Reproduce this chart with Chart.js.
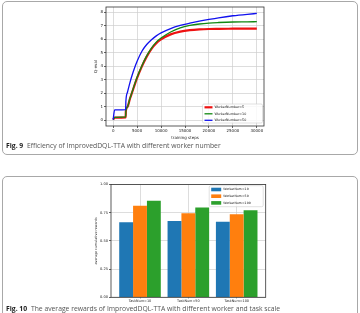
<!DOCTYPE html>
<html>
<head>
<meta charset="utf-8">
<script src="https://cdn.jsdelivr.net/npm/chart.js@4.4.0/dist/chart.umd.min.js"></script>
<style>
  html, body { margin: 0; padding: 0; background: #fff; }
  body { width: 360px; height: 313px; position: relative; overflow: hidden; }
  .box { position: absolute; box-sizing: border-box; border: 1px solid #a8a8a8; border-radius: 5px; }
  .cap { position: absolute; left: 6px; font-family: "Open Sans", sans-serif; font-size: 6.8px; line-height: 10px; color: #555; white-space: nowrap; }
  .cap b { color: #222; font-weight: 700; margin-right: 2px; }
  canvas { position: absolute; left: 0; }
</style>
</head>
<body>
<div class="box" style="left:2px;top:1px;width:356px;height:154px"></div>
<div class="box" style="left:2px;top:176px;width:356px;height:200px"></div>
<canvas id="qChart" width="360" height="143" style="top:0"></canvas>
<canvas id="rewardChart" width="360" height="128" style="top:178px"></canvas>
<div class="cap" style="top:141px"><b>Fig. 9</b> Efficiency of ImprovedDQL-TTA with different worker number</div>
<div class="cap" style="top:304px"><b>Fig. 10</b> The average rewards of ImprovedDQL-TTA with different worker and task scale</div>
<script>
// Fig. 9 data
const steps     = [0, 300, 2600, 2650, 3000, 3500, 4000, 4500, 5000, 6000, 7000, 8000, 9000, 10000, 12000, 14000, 16000, 18000, 20000, 22000, 25000, 28000, 30000];
const qWorker5  = [0.05, 0.2, 0.22, 0.7, 1.0, 1.6, 2.12, 2.65, 3.15, 4.0, 4.72, 5.3, 5.72, 6.0, 6.37, 6.57, 6.68, 6.74, 6.77, 6.78, 6.79, 6.8, 6.8];
const qWorker10 = [0.05, 0.22, 0.25, 0.7, 1.0, 1.62, 2.15, 2.7, 3.2, 4.05, 4.78, 5.36, 5.8, 6.1, 6.55, 6.85, 7.03, 7.14, 7.21, 7.25, 7.29, 7.3, 7.31];
const qWorker50 = [0.05, 0.78, 0.8, 1.4, 2.1, 2.8, 3.4, 3.92, 4.38, 5.12, 5.62, 5.98, 6.26, 6.48, 6.8, 7.03, 7.2, 7.35, 7.48, 7.6, 7.75, 7.86, 7.92];
const lineLabels = ["WorkerNumber=5", "WorkerNumber=10", "WorkerNumber=50"];
const stepTicks = [0, 5000, 10000, 15000, 20000, 25000, 30000];
const qTicks = [0, 1, 2, 3, 4, 5, 6, 7, 8];

// Fig. 10 data
const taskLabels = ["TaskNum=10", "TaskNum=50", "TaskNum=100"];
const workerLabels = ["WorkerNum=10", "WorkerNum=50", "WorkerNum=100"];
const reward10  = [0.665, 0.676, 0.670];
const reward50  = [0.812, 0.745, 0.736];
const reward100 = [0.856, 0.795, 0.771];
const rewardTicks = [0, 0.25, 0.5, 0.75, 1.0];

const gridColor = "#cfcfcf";
const inkColor = "#222";
const mplFont = "DejaVu Sans";

// frame round the plot area + legend inside it
const frameAndLegend = {
  id: "frameAndLegend",
  afterDraw(chart, args, opts) {
    const ctx = chart.ctx;
    const a = chart.chartArea;
    ctx.save();
    ctx.strokeStyle = "#333";
    ctx.lineWidth = 0.8;
    ctx.strokeRect(a.left, a.top, a.right - a.left, a.bottom - a.top);

    const w = opts.width, h = opts.height;
    const x = a.right - opts.right - w;
    const y = opts.bottom != null ? a.bottom - opts.bottom - h : a.top + opts.top;
    ctx.fillStyle = "rgba(255,255,255,0.85)";
    ctx.strokeStyle = "#cccccc";
    ctx.lineWidth = 0.6;
    ctx.beginPath();
    if (ctx.roundRect) ctx.roundRect(x, y, w, h, 1.5); else ctx.rect(x, y, w, h);
    ctx.fill();
    ctx.stroke();

    ctx.font = opts.fontSize + "px '" + mplFont + "'";
    ctx.textBaseline = "middle";
    chart.data.datasets.forEach((ds, i) => {
      const ry = y + opts.first + i * opts.row;
      if (opts.kind === "line") {
        ctx.strokeStyle = ds.borderColor;
        ctx.lineWidth = ds.borderWidth;
        ctx.beginPath();
        ctx.moveTo(x + 2, ry);
        ctx.lineTo(x + 10, ry);
        ctx.stroke();
      } else {
        ctx.fillStyle = ds.backgroundColor;
        ctx.fillRect(x + 2, ry - 1.8, 10, 3.6);
      }
      ctx.fillStyle = "#111";
      ctx.fillText(ds.label, x + opts.textX, ry);
    });
    ctx.restore();
  }
};

const toPoints = (xs, ys) => ys.map((v, i) => ({ x: xs[i], y: v }));

new Chart(document.getElementById("qChart"), {
  type: "line",
  data: {
    datasets: [
      { label: lineLabels[0], data: toPoints(steps, qWorker5), borderColor: "#ee1111", borderWidth: 2.2, order: 3 },
      { label: lineLabels[1], data: toPoints(steps, qWorker10), borderColor: "#118811", borderWidth: 1.3, order: 2 },
      { label: lineLabels[2], data: toPoints(steps, qWorker50), borderColor: "#1111ee", borderWidth: 1.3, order: 1 }
    ]
  },
  options: {
    responsive: false,
    animation: false,
    devicePixelRatio: 1,
    layout: { padding: { left: 93.5, right: 96, top: 7, bottom: 3 } },
    elements: { point: { radius: 0 }, line: { cubicInterpolationMode: "monotone" } },
    plugins: {
      legend: { display: false },
      tooltip: { enabled: false },
      frameAndLegend: { kind: "line", width: 60, height: 19, right: 1.5, bottom: 3, first: 3.3, row: 6.5, textX: 12, fontSize: 3.3 }
    },
    scales: {
      x: {
        type: "linear", min: -1500, max: 31500,
        afterBuildTicks: s => { s.ticks = stepTicks.map(v => ({ value: v })); },
        afterFit: s => { s.height = 14; },
        grid: { color: gridColor, lineWidth: 0.7, tickLength: 2, tickColor: inkColor },
        border: { display: false },
        ticks: { font: { family: mplFont, size: 4 }, color: inkColor, padding: 1, maxRotation: 0, callback: v => String(v) },
        title: { display: true, text: "training steps", font: { family: mplFont, size: 4 }, color: inkColor, padding: 0 }
      },
      y: {
        min: -0.42, max: 8.4,
        afterBuildTicks: s => { s.ticks = qTicks.map(v => ({ value: v })); },
        afterFit: s => { s.width = 12.5; },
        grid: { color: gridColor, lineWidth: 0.7, tickLength: 2, tickColor: inkColor },
        border: { display: false },
        ticks: { font: { family: mplFont, size: 4 }, color: inkColor, padding: 1, callback: v => String(v) },
        title: { display: true, text: "Q-eval", font: { family: mplFont, size: 4 }, color: inkColor, padding: 0 }
      }
    }
  },
  plugins: [frameAndLegend]
});

const barColors = ["#1f77b4", "#ff7f0e", "#2ca02c"];
const rewardSeries = [reward10, reward50, reward100];

new Chart(document.getElementById("rewardChart"), {
  type: "bar",
  data: {
    datasets: rewardSeries.map((vals, i) => ({
      label: workerLabels[i],
      data: vals.map((v, j) => ({ x: j, y: v })),
      backgroundColor: barColors[i],
      categoryPercentage: 0.86,
      barPercentage: 1.0
    }))
  },
  options: {
    responsive: false,
    animation: false,
    devicePixelRatio: 1,
    layout: { padding: { left: 94, right: 94.3, top: 6.5, bottom: 2.7 } },
    plugins: {
      legend: { display: false },
      tooltip: { enabled: false },
      frameAndLegend: { kind: "box", width: 54, height: 21, right: 2.5, top: 1.2, first: 3.8, row: 6.7, textX: 14, fontSize: 3.2 }
    },
    scales: {
      x: {
        type: "linear", min: -0.6, max: 2.6, offset: false,
        afterBuildTicks: s => { s.ticks = taskLabels.map((t, i) => ({ value: i })); },
        afterFit: s => { s.height = 6; },
        grid: { color: gridColor, lineWidth: 0.7, offset: false, tickLength: 1, tickColor: inkColor },
        border: { display: false },
        ticks: { font: { family: mplFont, size: 3.4 }, color: inkColor, padding: 0.7, maxRotation: 0, callback: v => taskLabels[v] }
      },
      y: {
        min: 0, max: 1,
        afterBuildTicks: s => { s.ticks = rewardTicks.map(v => ({ value: v })); },
        afterFit: s => { s.width = 17; },
        grid: { color: gridColor, lineWidth: 0.7, tickLength: 2, tickColor: inkColor },
        border: { display: false },
        ticks: { font: { family: mplFont, size: 3.6 }, color: inkColor, padding: 1, callback: v => v.toFixed(2) },
        title: { display: true, text: "average cumulative rewards", font: { family: mplFont, size: 3.3 }, color: inkColor, padding: 0 }
      }
    }
  },
  plugins: [frameAndLegend]
});
</script>
</body>
</html>
